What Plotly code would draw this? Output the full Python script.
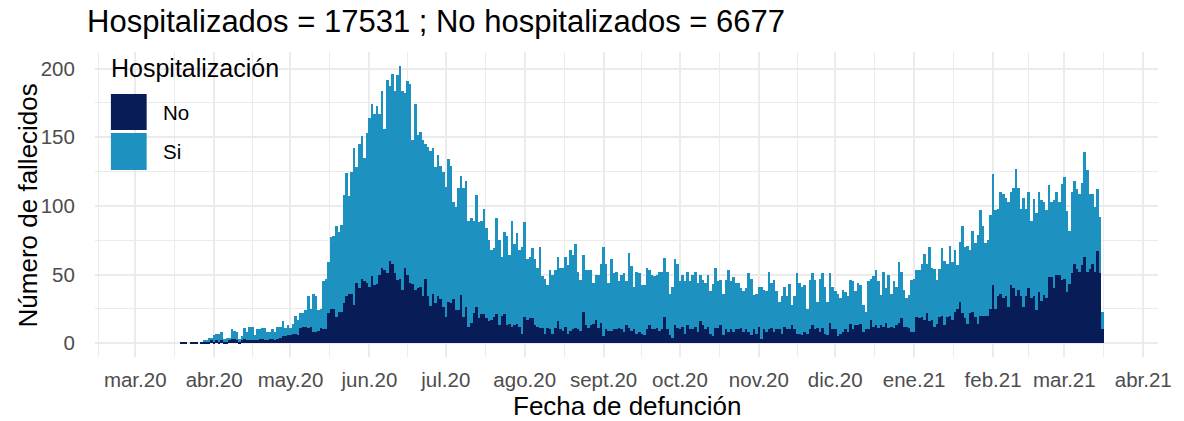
import pandas as pd
import plotly.graph_objects as go

# Daily deaths starting on this date, split by hospitalisation status
fecha_inicio = "2020-03-19"

no_hospitalizados = [
    1, 1, 1, 0, 1, 1, 1, 0, 1, 1,
    1, 1, 2, 1, 2, 1, 2, 1, 1, 2,
    3, 3, 2, 1, 2, 3, 2, 2, 2,
    2, 2, 3, 3, 2, 2, 3, 3, 2, 3,
    4, 5, 5, 6, 6, 7, 7, 6, 11, 12,
    12, 11, 12, 8, 8, 9, 11,
    10, 10, 22, 25, 25, 19, 23, 23, 29, 34,
    36, 36, 28, 44, 40, 47, 45, 44, 41, 49,
    42, 43, 50, 55, 53, 51, 60, 58, 51, 46, 47,
    39, 55, 50, 44, 43, 39, 40, 41, 34, 47,
    34, 27, 36, 29, 34, 32, 26, 19, 30, 29,
    32, 24, 24, 35, 19, 26, 12, 15, 22, 26, 18,
    21, 21, 18, 16, 17, 19, 21, 13, 20, 21,
    13, 14, 12, 13, 14, 12, 7, 19, 17, 18,
    18, 13, 12, 11, 11, 7, 11, 10, 7, 11, 16, 10,
    9, 12, 7, 9, 10, 11, 10, 9, 23, 13,
    11, 13, 14, 17, 11, 15, 5, 10, 9, 9,
    10, 10, 11, 10, 8, 13, 11, 9, 10, 7, 8,
    7, 6, 10, 13, 10, 10, 11, 9, 10, 19,
    10, 6, 4, 13, 11, 10, 12, 7, 13, 10,
    10, 12, 8, 16, 13, 10, 12, 7, 5, 11, 11,
    13, 6, 10, 8, 10, 8, 10, 10, 11, 8,
    10, 8, 6, 10, 7, 12, 3, 10, 8, 10,
    11, 8, 10, 10, 7, 12, 10, 10, 13, 10, 7,
    7, 6, 8, 7, 10, 13, 10, 11, 8, 11,
    7, 6, 15, 10, 10, 5, 7, 8, 10, 8,
    14, 10, 13, 13, 14, 8, 10, 10, 17, 12, 13, 11,
    13, 12, 15, 11, 12, 11, 13, 15, 18, 12,
    12, 11, 8, 8, 19, 18, 19, 17, 22, 16,
    17, 12, 14, 19, 20, 13, 19, 20, 17, 23, 25,
    30, 22, 18, 14, 22, 23, 19, 14, 20, 20,
    20, 20, 25, 42, 25, 34, 36, 33, 34, 26,
    42, 40, 34, 39, 34, 26, 34, 40, 33,
    34, 24, 37, 31, 35, 33, 48, 48, 40, 50,
    50, 46, 47, 37, 43, 51, 58, 54, 52, 57,
    63, 52, 54, 58, 52, 67, 51, 10,
]

hospitalizados = [
    0, 0, 0, 0, 0, 0, 0, 0, 0, 1,
    1, 3, 2, 5, 5, 6, 6, 2, 3, 2,
    7, 6, 6, 2, 3, 8, 6, 10, 10,
    4, 8, 7, 8, 9, 6, 5, 7, 6, 9,
    8, 11, 6, 7, 5, 7, 13, 11, 11, 10,
    12, 23, 13, 28, 26, 15, 14,
    35, 37, 37, 52, 53, 66, 58, 63, 79, 90,
    71, 89, 114, 84, 105, 104, 90, 109, 123, 125,
    125, 130, 117, 129, 103, 141, 127, 138, 133, 149, 155,
    145, 127, 141, 145, 105, 135, 112, 113, 114, 98,
    109, 113, 106, 99, 103, 97, 99, 95, 104, 100,
    71, 75, 89, 87, 94, 92, 77, 76, 67, 82, 70,
    68, 77, 66, 59, 51, 50, 70, 62, 43, 60,
    65, 50, 77, 59, 66, 56, 63, 69, 44, 45,
    51, 48, 43, 59, 38, 40, 31, 43, 43, 42, 47, 45,
    46, 51, 50, 59, 54, 61, 42, 37, 41, 40,
    42, 40, 30, 33, 39, 43, 65, 48, 35, 52,
    41, 42, 34, 40, 43, 32, 55, 47, 31, 45, 43,
    35, 36, 45, 40, 40, 39, 39, 43, 42, 43,
    42, 30, 37, 48, 47, 35, 38, 38, 39, 35,
    40, 40, 36, 34, 33, 34, 38, 31, 38, 44, 34,
    33, 30, 36, 45, 35, 40, 34, 34, 29, 30,
    30, 43, 41, 25, 29, 29, 38, 29, 30, 42,
    33, 38, 28, 20, 27, 29, 24, 33, 15, 24, 44,
    37, 35, 34, 18, 36, 38, 36, 19, 39, 40,
    34, 24, 36, 31, 28, 31, 26, 31, 27, 26,
    32, 35, 25, 31, 28, 20, 13, 35, 30, 37, 40, 34,
    22, 40, 25, 39, 24, 34, 28, 44, 34, 27,
    21, 24, 38, 39, 34, 35, 39, 48, 36, 54,
    38, 42, 32, 35, 49, 47, 39, 51, 42, 45, 32,
    44, 63, 52, 57, 46, 59, 54, 65, 77, 65,
    53, 55, 68, 81, 72, 64, 74, 76, 72, 77,
    68, 73, 93, 74, 64, 80, 64, 70, 56,
    71, 71, 73, 73, 68, 64, 67, 55, 64, 60,
    53, 70, 74, 59, 39, 59, 60, 58, 57, 60,
    76, 74, 55, 51, 47, 45, 41, 13,
]

# Month ticks on the date axis
inicio_meses = [
    "2020-03-01", "2020-04-01", "2020-05-01", "2020-06-01", "2020-07-01",
    "2020-08-01", "2020-09-01", "2020-10-01", "2020-11-01", "2020-12-01",
    "2021-01-01", "2021-02-01", "2021-03-01", "2021-04-01",
]
etiquetas_meses = [
    "mar.20", "abr.20", "may.20", "jun.20", "jul.20", "ago.20", "sept.20",
    "oct.20", "nov.20", "dic.20", "ene.21", "feb.21", "mar.21", "abr.21",
]
valores_y = [0, 50, 100, 150, 200]

COLOR_NO = "#081D58"
COLOR_SI = "#1D91C0"
GRID = "#EBEBEB"
FUENTE = "Liberation Sans, Arial, sans-serif"

W, H = 1184, 421
L, R, T, B = 95, 19, 52, 64
PW, PH = W - L - R, H - T - B


def px_x(px):
    return (px - L) / PW


def px_y(py):
    return (H - B - py) / PH


fechas = pd.date_range(fecha_inicio, periods=len(hospitalizados), freq="D")

# Minor date gridlines sit halfway between consecutive month starts
bordes = pd.to_datetime(["2020-02-01"] + inicio_meses + ["2021-05-01"])
menores = [bordes[i] + (bordes[i + 1] - bordes[i]) / 2 for i in range(len(bordes) - 1)]

origen = pd.Timestamp("2020-03-01")
rango_x = [origen - pd.Timedelta(days=15.8), origen + pd.Timedelta(days=401.8)]

fig = go.Figure()
fig.add_trace(go.Bar(x=fechas, y=no_hospitalizados, name="No",
                     marker=dict(color=COLOR_NO, line=dict(width=0)), showlegend=False))
fig.add_trace(go.Bar(x=fechas, y=hospitalizados, name="Si",
                     marker=dict(color=COLOR_SI, line=dict(width=0)), showlegend=False))

titulo = f"Hospitalizados = {sum(hospitalizados)} ; No hospitalizados = {sum(no_hospitalizados)}"

fig.update_layout(
    width=W, height=H, autosize=False,
    margin=dict(l=L, r=R, t=T, b=B),
    barmode="stack", bargap=0,
    plot_bgcolor="white", paper_bgcolor="white",
    font=dict(family=FUENTE, color="black"),
    title=dict(text=titulo, x=87 / W, xanchor="left", xref="container",
               y=1 - 21 / H, yanchor="middle", yref="container",
               font=dict(size=31, color="black", family=FUENTE)),
    xaxis=dict(
        type="date", range=rango_x,
        tickvals=pd.to_datetime(inicio_meses), ticktext=etiquetas_meses,
        ticks="outside", ticklen=4, tickcolor="rgba(0,0,0,0)",
        tickfont=dict(size=20.5, color="#4D4D4D", family=FUENTE),
        showgrid=True, gridcolor=GRID, gridwidth=2,
        minor=dict(tickvals=menores, showgrid=True, gridcolor=GRID, gridwidth=1, ticks=""),
        zeroline=False, showline=False, fixedrange=True,
    ),
    yaxis=dict(
        range=[-10.1, 212.1],
        tickvals=valores_y,
        ticks="outside", ticklen=15, tickcolor="rgba(0,0,0,0)",
        tickfont=dict(size=20.5, color="#4D4D4D", family=FUENTE),
        showgrid=True, gridcolor=GRID, gridwidth=2,
        minor=dict(dtick=25, tick0=0, showgrid=True, gridcolor=GRID, gridwidth=1, ticks=""),
        zeroline=False, showline=False, fixedrange=True,
    ),
)

anotaciones = [
    dict(text="Número de fallecidos", x=px_x(28), y=px_y(205), textangle=-90,
         font=dict(size=26, color="black")),
    dict(text="Fecha de defunción", x=px_x(630), y=px_y(406),
         font=dict(size=26, color="black")),
    dict(text="Hospitalización", x=px_x(109), y=px_y(68), xanchor="left",
         font=dict(size=25, color="black")),
    dict(text="No", x=px_x(161), y=px_y(112), xanchor="left",
         font=dict(size=20.5, color="black")),
    dict(text="Si", x=px_x(161), y=px_y(151), xanchor="left",
         font=dict(size=20.5, color="black")),
]
for a in anotaciones:
    a.setdefault("xanchor", "center")
    fig.add_annotation(xref="paper", yref="paper", yanchor="middle", showarrow=False, **a)

# Legend keys
for color, top, bottom in [(COLOR_NO, 94, 130), (COLOR_SI, 133, 170)]:
    fig.add_shape(type="rect", xref="paper", yref="paper",
                  x0=px_x(111), x1=px_x(147), y0=px_y(bottom), y1=px_y(top),
                  fillcolor=color, line=dict(width=0), layer="above")

fig.write_html("out.html")
